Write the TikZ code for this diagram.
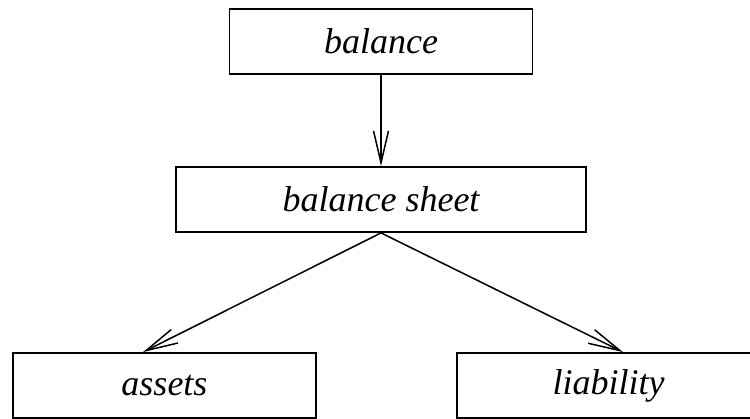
\documentclass[tikz,border=0pt]{standalone}
\usepackage{fontspec}
\setmainfont{Liberation Serif}
\usetikzlibrary{arrows.meta}
\tikzset{
  term/.style={draw, line width=0.9pt, minimum width=151.5pt, minimum height=32.5pt,
    inner sep=0pt, font=\itshape\fontsize{18}{20}\selectfont},
  link/.style={-{Straight Barb[length=16pt,width=7.5pt]}, line width=0.75pt}
}
\begin{document}
\begin{tikzpicture}[x=0.5pt,y=-0.5pt]
  \clip (0,0) rectangle (750,418);
  \node[term] (bal) at (381,41.5) {balance};
  \node[term, minimum width=205pt] (sheet) at (381,199.5) {balance sheet};
  \node[term] (assets) at (164.5,385.5) {assets};
  \node[term] (liab) at (608.5,385.5) {liability};

  \draw[link] (bal) -- (sheet);
  \draw[link] (sheet.south) -- ([xshift=-10.75pt]assets.north);
  \draw[link] (sheet.south) -- ([xshift=7.25pt]liab.north);
\end{tikzpicture}
\end{document}
